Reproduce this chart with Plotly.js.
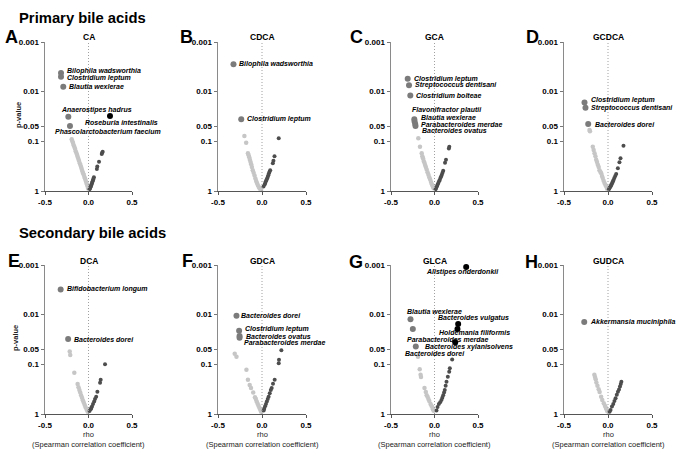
<!DOCTYPE html>
<html>
<head>
<meta charset="utf-8">
<script src="https://cdn.plot.ly/plotly-3.0.1.min.js"></script>
<style>
  html, body { margin: 0; padding: 0; background: #fff; }
  #plotDiv { width: 676px; height: 451px; }
</style>
</head>
<body>
<div id="plotDiv"></div>
<script>
// panels: one bile acid each, Spearman rho vs p-value for every species
const panelLetters = ["A", "B", "C", "D", "E", "F", "G", "H"];
const acidNames = ["CA", "CDCA", "GCA", "GCDCA", "DCA", "GDCA", "GLCA", "GUDCA"];
const sectionTitles = ["Primary bile acids", "Secondary bile acids"];
const pTickVals = [0.001, 0.01, 0.05, 0.1, 1];
const pTickText = ["0.001", "0.01", "0.05", "0.1", "1"];
const rhoTickVals = [-0.5, 0, 0.5];
const rhoTickText = ["-0.5", "0.0", "0.5"];
const pCutoff = 0.05;

// CA
const caNegRho = [-0.193, -0.185, -0.178, -0.17, -0.163, -0.155, -0.147, -0.14, -0.132, -0.125, -0.117, -0.11, -0.1, -0.093, -0.085, -0.078, -0.07, -0.062, -0.055, -0.047, -0.04, -0.032, -0.025, -0.017, -0.01, -0.004];
const caNegP = [0.091, 0.1, 0.108, 0.12, 0.129, 0.141, 0.158, 0.17, 0.186, 0.204, 0.224, 0.245, 0.275, 0.3, 0.33, 0.36, 0.4, 0.44, 0.47, 0.52, 0.56, 0.62, 0.68, 0.74, 0.81, 0.89];
const caPosRho = [0.163, 0.157, 0.152, 0.121, 0.101, 0.096, 0.062, 0.057, 0.052, 0.047, 0.042, 0.037, 0.032, 0.027, 0.022, 0.017, 0.012];
const caPosP = [0.162, 0.17, 0.18, 0.257, 0.32, 0.36, 0.53, 0.57, 0.6, 0.64, 0.68, 0.72, 0.76, 0.8, 0.84, 0.88, 0.92];
const caSigNames = ["Bilophila wadsworthia", "Clostridium leptum", "Blautia wexlerae", "Anaerostipes hadrus", "Roseburia intestinalis", "Phascolarctobacterium faecium"];
const caSigRho = [-0.316, -0.316, -0.29, -0.232, 0.247, -0.213];
const caSigP = [0.0042, 0.005, 0.008, 0.032, 0.031, 0.049];

// CDCA
const cdcaNegRho = [-0.2, -0.18, -0.16, -0.152, -0.145, -0.138, -0.13, -0.123, -0.115, -0.105, -0.095, -0.085, -0.075, -0.066, -0.057, -0.048, -0.038, -0.028, -0.018, -0.01];
const cdcaNegP = [0.078, 0.107, 0.174, 0.19, 0.21, 0.235, 0.26, 0.29, 0.33, 0.38, 0.43, 0.49, 0.56, 0.63, 0.69, 0.76, 0.82, 0.88, 0.92, 0.95];
const cdcaPosRho = [0.19, 0.142, 0.13, 0.123, 0.093, 0.086, 0.079, 0.072, 0.065, 0.058, 0.051, 0.044, 0.037, 0.03, 0.017];
const cdcaPosP = [0.087, 0.2, 0.245, 0.275, 0.38, 0.41, 0.44, 0.48, 0.52, 0.56, 0.6, 0.64, 0.69, 0.74, 0.81];
const cdcaSigNames = ["Bilophila wadsworthia", "Clostridium leptum"];
const cdcaSigRho = [-0.324, -0.236];
const cdcaSigP = [0.0028, 0.036];

// GCA
const gcaNegRho = [-0.186, -0.167, -0.147, -0.14, -0.132, -0.124, -0.116, -0.108, -0.1, -0.09, -0.08, -0.07, -0.06, -0.05, -0.04, -0.03, -0.02, -0.01];
const gcaNegP = [0.087, 0.129, 0.174, 0.2, 0.22, 0.25, 0.27, 0.3, 0.33, 0.37, 0.42, 0.47, 0.53, 0.59, 0.66, 0.73, 0.8, 0.88];
const gcaPosRho = [0.17, 0.165, 0.132, 0.121, 0.1, 0.092, 0.084, 0.076, 0.068, 0.06, 0.052, 0.044, 0.036, 0.028, 0.02, 0.012];
const gcaPosP = [0.129, 0.14, 0.234, 0.27, 0.39, 0.43, 0.47, 0.51, 0.55, 0.6, 0.64, 0.69, 0.74, 0.8, 0.86, 0.92];
const gcaSigNames = ["Clostridium leptum", "Streptococcus dentisani", "Clostridium bolteae", "Flavonifractor plautii", "Blautia wexlerae", "Parabacteroides merdae", "Bacteroides ovatus"];
const gcaSigRho = [-0.308, -0.293, -0.278, -0.232, -0.229, -0.222, -0.218];
const gcaSigP = [0.0055, 0.0074, 0.012, 0.036, 0.04, 0.045, 0.049];

// GCDCA
const gcdcaNegRho = [-0.21, -0.205, -0.173, -0.163, -0.153, -0.143, -0.134, -0.125, -0.116, -0.106, -0.097, -0.087, -0.077, -0.068, -0.06, -0.05, -0.04, -0.03, -0.02, -0.01];
const gcdcaNegP = [0.059, 0.063, 0.129, 0.15, 0.174, 0.2, 0.234, 0.26, 0.295, 0.33, 0.38, 0.41, 0.44, 0.5, 0.55, 0.62, 0.69, 0.75, 0.81, 0.9];
const gcdcaPosRho = [0.176, 0.142, 0.13, 0.112, 0.093, 0.082, 0.072, 0.063, 0.056, 0.05, 0.043, 0.036, 0.03, 0.025, 0.017, 0.01];
const gcdcaPosP = [0.123, 0.22, 0.263, 0.347, 0.457, 0.5, 0.55, 0.6, 0.64, 0.68, 0.72, 0.76, 0.8, 0.83, 0.87, 0.92];
const gcdcaSigNames = ["Clostridium leptum", "Streptococcus dentisani", "Bacteroides dorei"];
const gcdcaSigRho = [-0.267, -0.256, -0.225];
const gcdcaSigP = [0.0165, 0.021, 0.045];

// DCA
const dcaNegRho = [-0.216, -0.21, -0.163, -0.125, -0.115, -0.105, -0.095, -0.085, -0.075, -0.065, -0.055, -0.045, -0.035, -0.025, -0.015, -0.008];
const dcaNegP = [0.055, 0.065, 0.148, 0.25, 0.29, 0.33, 0.37, 0.42, 0.47, 0.53, 0.59, 0.65, 0.72, 0.78, 0.85, 0.9];
const dcaPosRho = [0.19, 0.14, 0.133, 0.102, 0.088, 0.075, 0.065, 0.052, 0.04, 0.032, 0.025, 0.012];
const dcaPosP = [0.1, 0.204, 0.234, 0.355, 0.447, 0.5, 0.56, 0.63, 0.71, 0.76, 0.8, 0.87];
const dcaSigNames = ["Bifidobacterium longum", "Bacteroides dorei"];
const dcaSigRho = [-0.32, -0.234];
const dcaSigP = [0.0031, 0.031];

// GDCA
const gdcaNegRho = [-0.31, -0.29, -0.177, -0.16, -0.14, -0.125, -0.1, -0.08, -0.07, -0.06, -0.05, -0.04, -0.03, -0.02, -0.01];
const gdcaNegP = [0.061, 0.07, 0.129, 0.204, 0.26, 0.3, 0.37, 0.46, 0.5, 0.56, 0.62, 0.68, 0.75, 0.82, 0.9];
const gdcaPosRho = [0.22, 0.193, 0.19, 0.144, 0.125, 0.11, 0.1, 0.088, 0.075, 0.065, 0.055, 0.045, 0.035, 0.025, 0.019];
const gdcaPosP = [0.052, 0.081, 0.095, 0.204, 0.245, 0.3, 0.33, 0.38, 0.45, 0.5, 0.56, 0.63, 0.7, 0.78, 0.85];
const gdcaSigNames = ["Bacteroides dorei", "Clostridium leptum", "Bacteroides ovatus", "Parabacteroides merdae"];
const gdcaSigRho = [-0.29, -0.26, -0.255, -0.255];
const gdcaSigP = [0.0105, 0.021, 0.027, 0.029];

// GLCA
const glcaNegRho = [-0.19, -0.17, -0.16, -0.155, -0.115, -0.1, -0.09, -0.08, -0.07, -0.06, -0.045, -0.035, -0.026, -0.018, -0.01];
const glcaNegP = [0.07, 0.126, 0.162, 0.18, 0.3, 0.36, 0.417, 0.45, 0.5, 0.55, 0.63, 0.68, 0.72, 0.8, 0.86];
const glcaPosRho = [0.203, 0.176, 0.169, 0.153, 0.138, 0.128, 0.118, 0.11, 0.1, 0.09, 0.08, 0.065, 0.05, 0.035, 0.023];
const glcaPosP = [0.08, 0.12, 0.141, 0.178, 0.224, 0.27, 0.33, 0.37, 0.417, 0.47, 0.525, 0.58, 0.63, 0.72, 0.85];
const glcaSigNames = ["Alistipes onderdonkii", "Bacteroides vulgatus", "Holdemania filiformis", "Bacteroides xylanisolvens", "Blautia wexlerae", "Parabacteroides merdae", "Bacteroides dorei"];
const glcaSigRho = [0.364, 0.272, 0.264, 0.238, -0.276, -0.249, -0.215];
const glcaSigP = [0.0011, 0.0155, 0.0195, 0.036, 0.0123, 0.0195, 0.044];

// GUDCA
const gudcaNegRho = [-0.155, -0.148, -0.14, -0.132, -0.12, -0.106, -0.095, -0.078, -0.065, -0.048, -0.035, -0.025, -0.017, -0.008];
const gudcaNegP = [0.163, 0.18, 0.2, 0.233, 0.27, 0.317, 0.36, 0.447, 0.52, 0.607, 0.68, 0.74, 0.8, 0.88];
const gudcaPosRho = [0.152, 0.145, 0.136, 0.125, 0.113, 0.1, 0.086, 0.073, 0.06, 0.045, 0.029, 0.018];
const gudcaPosP = [0.224, 0.25, 0.28, 0.32, 0.355, 0.41, 0.48, 0.55, 0.63, 0.71, 0.83, 0.9];
const gudcaSigNames = ["Akkermansia muciniphila"];
const gudcaSigRho = [-0.27];
const gudcaSigP = [0.014];

// label offsets in px from each significant point [dx, dy]
const labelShifts = [
  [[4, 2], [4, -1], [4, 0], [-9, 7], [-27, -6], [-17, -6]],
  [[4, 0], [4, 0]],
  [[4, 0], [4, 0], [4, 0], [-4, 9], [4, 4], [4, 0], [4, -5]],
  [[4, 2], [4, 0], [5, 0]],
  [[4, 0], [4, 0]],
  [[3, 0], [4, 2], [4, 0], [2, -5]],
  [[-42, -5], [-22, 6], [-20, -3], [-32, -5], [-5, 8], [-8, -10], [-13, -7]],
  [[4, 0]]
];

const panels = [
  { negRho: caNegRho, negP: caNegP, posRho: caPosRho, posP: caPosP, names: caSigNames, sigRho: caSigRho, sigP: caSigP },
  { negRho: cdcaNegRho, negP: cdcaNegP, posRho: cdcaPosRho, posP: cdcaPosP, names: cdcaSigNames, sigRho: cdcaSigRho, sigP: cdcaSigP },
  { negRho: gcaNegRho, negP: gcaNegP, posRho: gcaPosRho, posP: gcaPosP, names: gcaSigNames, sigRho: gcaSigRho, sigP: gcaSigP },
  { negRho: gcdcaNegRho, negP: gcdcaNegP, posRho: gcdcaPosRho, posP: gcdcaPosP, names: gcdcaSigNames, sigRho: gcdcaSigRho, sigP: gcdcaSigP },
  { negRho: dcaNegRho, negP: dcaNegP, posRho: dcaPosRho, posP: dcaPosP, names: dcaSigNames, sigRho: dcaSigRho, sigP: dcaSigP },
  { negRho: gdcaNegRho, negP: gdcaNegP, posRho: gdcaPosRho, posP: gdcaPosP, names: gdcaSigNames, sigRho: gdcaSigRho, sigP: gdcaSigP },
  { negRho: glcaNegRho, negP: glcaNegP, posRho: glcaPosRho, posP: glcaPosP, names: glcaSigNames, sigRho: glcaSigRho, sigP: glcaSigP },
  { negRho: gudcaNegRho, negP: gudcaNegP, posRho: gudcaPosRho, posP: gudcaPosP, names: gudcaSigNames, sigRho: gudcaSigRho, sigP: gudcaSigP }
];

// page geometry (px)
const W = 676, H = 451;
const fx = (px) => px / W;
const fy = (py) => 1 - py / H;
const colPx = [[45, 132], [218, 306], [391, 478], [564, 652]];
const rowPx = [[42, 191], [265, 414]];
const letterPx = [[3, 37], [178, 37], [348, 37], [524, 37], [6, 261], [180, 261], [347, 262], [523, 262]];
const FONT = "Liberation Sans, Arial, sans-serif";
const GUIDE = { color: "#a0a0a0", width: 1, dash: "1px,2px" };
const bold = (s) => "<b>" + s + "</b>";

const data = [];
const annotations = [];
const shapes = [];
const layout = {
  width: W, height: H,
  margin: { l: 0, r: 0, t: 0, b: 0 },
  paper_bgcolor: "#fff", plot_bgcolor: "#fff",
  showlegend: false,
  font: { family: FONT, color: "#111" }
};

panels.forEach((pd, i) => {
  const n = i + 1;
  const sfx = n === 1 ? "" : String(n);
  const row = Math.floor(i / 4), col = i % 4;
  const xr = "x" + sfx, yr = "y" + sfx;

  layout["xaxis" + sfx] = {
    domain: [fx(colPx[col][0]), fx(colPx[col][1])],
    anchor: yr, range: [-0.5, 0.5],
    tickvals: rhoTickVals, ticktext: rhoTickText.map(bold),
    ticks: "outside", ticklen: 3, tickwidth: 1, tickcolor: "#555",
    showline: true, linecolor: "#555", linewidth: 1.2,
    showgrid: false, zeroline: false,
    tickfont: { family: FONT, size: 8, color: "#000" }
  };
  layout["yaxis" + sfx] = {
    domain: [fy(rowPx[row][1]), fy(rowPx[row][0])],
    anchor: xr, type: "log", range: [0, -3],
    tickvals: pTickVals, ticktext: pTickText.map(bold),
    ticks: "outside", ticklen: 3, tickwidth: 1, tickcolor: "#777",
    showline: true, linecolor: "#8a8a8a", linewidth: 1.5,
    showgrid: false, zeroline: false,
    tickfont: { family: FONT, size: 8, color: "#000" }
  };

  // dotted guides: rho = 0 and p = 0.05
  shapes.push({ type: "line", xref: xr, yref: yr + " domain", x0: 0, x1: 0, y0: 0, y1: 1, line: GUIDE });
  shapes.push({ type: "line", xref: xr + " domain", yref: yr, x0: 0, x1: 1,
    y0: Math.log10(pCutoff), y1: Math.log10(pCutoff), line: GUIDE });

  data.push({ type: "scatter", mode: "markers", x: pd.negRho, y: pd.negP, xaxis: xr, yaxis: yr,
    marker: { color: "#c6c6c6", size: 4.5 }, cliponaxis: false, hoverinfo: "skip" });
  data.push({ type: "scatter", mode: "markers", x: pd.posRho, y: pd.posP, xaxis: xr, yaxis: yr,
    marker: { color: "#4d4d4d", size: 4 }, cliponaxis: false, hoverinfo: "skip" });
  data.push({ type: "scatter", mode: "markers", x: pd.sigRho, y: pd.sigP, xaxis: xr, yaxis: yr,
    marker: { color: pd.sigRho.map((r) => (r > 0 ? "#000" : "#7b7b7b")), size: 6 },
    cliponaxis: false, hoverinfo: "skip" });

  pd.names.forEach((name, k) => {
    annotations.push({
      xref: xr, yref: yr, x: pd.sigRho[k], y: Math.log10(pd.sigP[k]),
      text: "<b><i>" + name + "</i></b>", showarrow: false,
      xanchor: "left", yanchor: "middle",
      xshift: labelShifts[i][k][0], yshift: labelShifts[i][k][1],
      font: { family: FONT, size: 7, color: "#000" }
    });
  });

  // acid name over each panel
  annotations.push({ xref: xr, yref: "paper", x: 0, y: fy(row === 0 ? 37 : 261),
    text: bold(acidNames[i]), showarrow: false, xanchor: "center", yanchor: "middle",
    font: { family: FONT, size: 8.5, color: "#000" } });

  // panel letter
  annotations.push({ xref: "paper", yref: "paper", x: fx(letterPx[i][0]), y: fy(letterPx[i][1]),
    text: bold(panelLetters[i]), showarrow: false, xanchor: "left", yanchor: "middle",
    font: { family: FONT, size: 18, color: "#000" } });

  // x-axis titles on bottom row only
  if (row === 1) {
    annotations.push({ xref: xr, yref: "paper", x: 0, y: fy(434), text: "rho", showarrow: false,
      xanchor: "center", yanchor: "middle", font: { family: FONT, size: 7.5, color: "#222" } });
    annotations.push({ xref: xr, yref: "paper", x: 0, y: fy(444.5),
      text: "(Spearman correlation coefficient)", showarrow: false,
      xanchor: "center", yanchor: "middle", font: { family: FONT, size: 7.5, color: "#222" } });
  }
});

// y-axis titles, first column only
[[18, 115], [15, 338]].forEach((pt) => {
  annotations.push({ xref: "paper", yref: "paper", x: fx(pt[0]), y: fy(pt[1]), text: bold("p-value"),
    textangle: -90, showarrow: false, xanchor: "center", yanchor: "middle",
    font: { family: FONT, size: 7.5, color: "#222" } });
});

// section headings
[[17, 18], [17, 233]].forEach((pt, k) => {
  annotations.push({ xref: "paper", yref: "paper", x: fx(pt[0]), y: fy(pt[1]),
    text: bold(sectionTitles[k]), showarrow: false, xanchor: "left", yanchor: "middle",
    font: { family: FONT, size: 14.8, color: "#000" } });
});

layout.annotations = annotations;
layout.shapes = shapes;

Plotly.newPlot("plotDiv", data, layout, { displayModeBar: false, staticPlot: true });
</script>
</body>
</html>
